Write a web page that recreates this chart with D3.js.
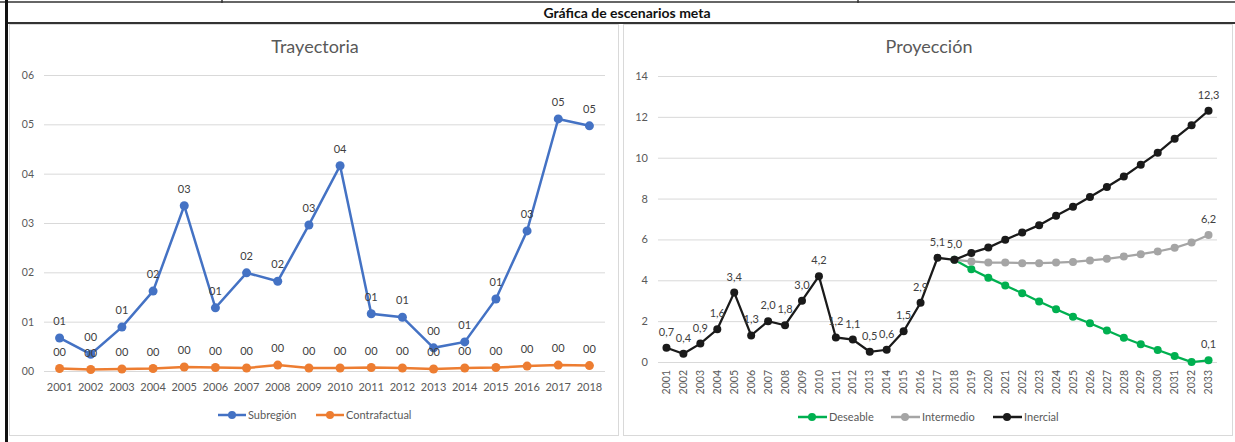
<!DOCTYPE html>
<html>
<head>
<meta charset="utf-8">
<script src="https://cdn.jsdelivr.net/npm/d3@7"></script>
<style>
  body { margin: 0; background: #fff; }
  svg { display: block; font-family: Lato, "Open Sans", sans-serif; }
</style>
</head>
<body>
<div id="chart"></div>
<script>
// Data
var years1 = d3.range(2001, 2019).map(String);
var subregion = [0.67, 0.34, 0.89, 1.62, 3.35, 1.28, 1.99, 1.82, 2.96, 4.16, 1.16, 1.09, 0.47, 0.59, 1.46, 2.84, 5.11, 4.97];
var contrafactual = [0.05, 0.03, 0.04, 0.05, 0.08, 0.07, 0.06, 0.12, 0.06, 0.06, 0.07, 0.06, 0.04, 0.06, 0.07, 0.10, 0.12, 0.11];
var leftTicks = [0, 1, 2, 3, 4, 5, 6];

var years2 = d3.range(2001, 2034).map(String);
var historico = [0.7, 0.4, 0.9, 1.6, 3.4, 1.3, 2.0, 1.8, 3.0, 4.2, 1.2, 1.1, 0.5, 0.6, 1.5, 2.9, 5.1, 5.0];
var inercialProy = [5.34, 5.6, 5.98, 6.34, 6.7, 7.16, 7.6, 8.08, 8.57, 9.08, 9.66, 10.24, 10.93, 11.59, 12.3];
var intermedioProy = [4.92, 4.87, 4.87, 4.84, 4.84, 4.87, 4.9, 4.97, 5.05, 5.16, 5.28, 5.41, 5.59, 5.85, 6.22];
var deseableProy = [4.54, 4.13, 3.74, 3.37, 2.96, 2.58, 2.22, 1.9, 1.54, 1.19, 0.87, 0.59, 0.29, 0.0, 0.08];
var rightTicks = [0, 2, 4, 6, 8, 10, 12, 14];

var W = 1235, H = 442;
var svg = d3.select("#chart").append("svg").attr("width", W).attr("height", H);

// Table frame
svg.append("line").attr("x1", 0).attr("x2", W).attr("y1", 2).attr("y2", 2).attr("stroke", "#333").attr("stroke-width", 1.5);
[222, 858].forEach(function(x) {
    svg.append("line").attr("x1", x).attr("x2", x).attr("y1", 0).attr("y2", 3).attr("stroke", "#333").attr("stroke-width", 1.5);
});
svg.append("line").attr("x1", 6).attr("x2", W).attr("y1", 23).attr("y2", 23).attr("stroke", "#333").attr("stroke-width", 2);
svg.append("line").attr("x1", 6.5).attr("x2", 6.5).attr("y1", 0).attr("y2", H).attr("stroke", "#111").attr("stroke-width", 3);
svg.append("text").attr("x", 627).attr("y", 18).attr("text-anchor", "middle")
    .attr("font-size", "14px").attr("font-weight", "bold").attr("fill", "#111")
    .text("Gráfica de escenarios meta");

// Panels
svg.append("rect").attr("x", 9.5).attr("y", 24.5).attr("width", 609).attr("height", 411)
    .attr("fill", "#fff").attr("stroke", "#d9d9d9");
svg.append("rect").attr("x", 623.5).attr("y", 24.5).attr("width", 609).attr("height", 411)
    .attr("fill", "#fff").attr("stroke", "#d9d9d9");

var gray = "#595959";

// ---------- Left chart: Trayectoria ----------
var xL = d3.scaleBand().domain(years1).range([44, 605]);
var yL = d3.scaleLinear().domain([0, 6]).range([371, 75]);

svg.append("text").attr("x", 315).attr("y", 53).attr("text-anchor", "middle")
    .attr("font-size", "18px").attr("fill", gray).text("Trayectoria");

var gyL = svg.append("g").attr("transform", "translate(44,0)")
    .call(d3.axisLeft(yL).tickValues(leftTicks).tickSize(-561).tickPadding(10).tickFormat(d3.format("02d")));
gyL.select(".domain").remove();
gyL.selectAll("line").attr("stroke", "#d9d9d9");
gyL.selectAll("text").attr("fill", gray).attr("font-size", "10.5px").attr("font-family", "Lato, sans-serif");

var gxL = svg.append("g").attr("transform", "translate(0,371)")
    .call(d3.axisBottom(xL).tickSize(0).tickPadding(12));
gxL.select(".domain").remove();
gxL.selectAll("text").attr("fill", gray).attr("font-size", "11px").attr("font-family", "Lato, sans-serif");

var leftSeries = [
    { name: "Subregión", values: subregion, color: "#4472C4" },
    { name: "Contrafactual", values: contrafactual, color: "#ED7D31" }
];
var lineL = d3.line()
    .x(function(d, i) { return xL(years1[i]) + xL.bandwidth() / 2; })
    .y(function(d) { return yL(d); });

leftSeries.slice().reverse().forEach(function(s) {
    svg.append("path").datum(s.values).attr("d", lineL)
        .attr("fill", "none").attr("stroke", s.color).attr("stroke-width", 2.5);
    svg.selectAll(null).data(s.values).enter().append("circle")
        .attr("cx", function(d, i) { return xL(years1[i]) + xL.bandwidth() / 2; })
        .attr("cy", function(d) { return yL(d); })
        .attr("r", 4.5).attr("fill", s.color);
});
leftSeries.forEach(function(s) {
    svg.selectAll(null).data(s.values).enter().append("text")
        .attr("x", function(d, i) { return xL(years1[i]) + xL.bandwidth() / 2; })
        .attr("y", function(d) { return yL(d) - 13; })
        .attr("text-anchor", "middle").attr("font-size", "11px").attr("fill", "#404040")
        .text(function(d) { return d3.format("02.0f")(d); });
});

// Legend left
var legL = [{ name: "Subregión", color: "#4472C4", x: 218 }, { name: "Contrafactual", color: "#ED7D31", x: 316 }];
legL.forEach(function(l) {
    svg.append("line").attr("x1", l.x).attr("x2", l.x + 28).attr("y1", 415).attr("y2", 415)
        .attr("stroke", l.color).attr("stroke-width", 2.5);
    svg.append("circle").attr("cx", l.x + 14).attr("cy", 415).attr("r", 4).attr("fill", l.color);
    svg.append("text").attr("x", l.x + 30).attr("y", 419).attr("font-size", "11px").attr("fill", gray).text(l.name);
});

// ---------- Right chart: Proyección ----------
var xR = d3.scaleBand().domain(years2).range([658, 1217]);
var yR = d3.scaleLinear().domain([0, 14]).range([362, 76]);
function cxR(i) { return xR(years2[i]) + xR.bandwidth() / 2; }

svg.append("text").attr("x", 929).attr("y", 53).attr("text-anchor", "middle")
    .attr("font-size", "18px").attr("fill", gray).text("Proyección");

var gyR = svg.append("g").attr("transform", "translate(658,0)")
    .call(d3.axisLeft(yR).tickValues(rightTicks).tickSize(-559).tickPadding(10));
gyR.select(".domain").remove();
gyR.selectAll("line").attr("stroke", "#d9d9d9");
gyR.selectAll("text").attr("fill", gray).attr("font-size", "11px").attr("font-family", "Lato, sans-serif");

var gxR = svg.append("g").attr("transform", "translate(0,362)")
    .call(d3.axisBottom(xR).tickSize(0));
gxR.select(".domain").remove();
gxR.selectAll("text")
    .attr("fill", gray).attr("font-size", "10.5px").attr("font-family", "Lato, sans-serif")
    .attr("text-anchor", "end").attr("dy", "0.35em").attr("y", 0)
    .attr("transform", "translate(0,8) rotate(-90)");

var last = historico.length - 1;
var rightSeries = [
    { name: "Deseable", color: "#00B050", values: [{ i: last, v: historico[last] }].concat(deseableProy.map(function(v, k) { return { i: last + 1 + k, v: v }; })) },
    { name: "Intermedio", color: "#A5A5A5", values: [{ i: last, v: historico[last] }].concat(intermedioProy.map(function(v, k) { return { i: last + 1 + k, v: v }; })) },
    { name: "Inercial", color: "#1a1a1a", values: historico.concat(inercialProy).map(function(v, k) { return { i: k, v: v }; }) }
];
var lineR = d3.line().x(function(d) { return cxR(d.i); }).y(function(d) { return yR(d.v); });

rightSeries.forEach(function(s) {
    svg.append("path").datum(s.values).attr("d", lineR)
        .attr("fill", "none").attr("stroke", s.color).attr("stroke-width", 2.25);
    svg.selectAll(null).data(s.values).enter().append("circle")
        .attr("cx", function(d) { return cxR(d.i); })
        .attr("cy", function(d) { return yR(d.v); })
        .attr("r", 4).attr("fill", s.color);
});

// Data labels right: history + last point of each scenario
var fmt = function(v) { return d3.format(".1f")(v).replace(".", ","); };
var labelsR = historico.map(function(v, k) { return { i: k, v: v }; });
rightSeries.forEach(function(s) { labelsR.push(s.values[s.values.length - 1]); });
svg.selectAll(null).data(labelsR).enter().append("text")
    .attr("x", function(d) { return cxR(d.i); })
    .attr("y", function(d) { return yR(d.v) - 12; })
    .attr("text-anchor", "middle").attr("font-size", "11px").attr("fill", "#404040")
    .text(function(d) { return fmt(d.v); });

// Legend right
var legR = [{ name: "Deseable", color: "#00B050", x: 798 }, { name: "Intermedio", color: "#A5A5A5", x: 891 }, { name: "Inercial", color: "#1a1a1a", x: 993 }];
legR.forEach(function(l) {
    svg.append("line").attr("x1", l.x).attr("x2", l.x + 29).attr("y1", 417).attr("y2", 417)
        .attr("stroke", l.color).attr("stroke-width", 2.5);
    svg.append("circle").attr("cx", l.x + 14).attr("cy", 417).attr("r", 4).attr("fill", l.color);
    svg.append("text").attr("x", l.x + 31).attr("y", 421).attr("font-size", "11px").attr("fill", gray).text(l.name);
});
</script>
</body>
</html>
